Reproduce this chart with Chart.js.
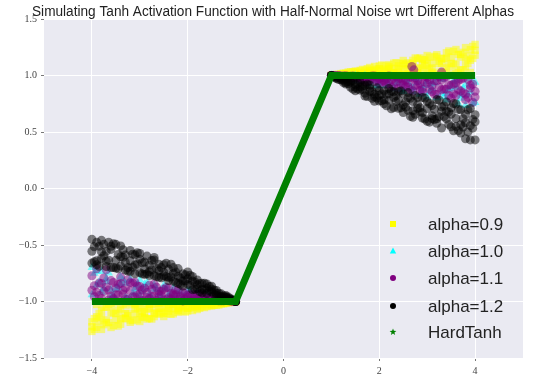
<!DOCTYPE html>
<html>
<head>
<meta charset="utf-8">
<script src="https://cdn.jsdelivr.net/npm/chart.js@4.4.1/dist/chart.umd.min.js"></script>
<style>
    body { margin: 0; background: #ffffff; }
    canvas { display: block; }
</style>
</head>
<body>
<canvas id="myChart" width="542" height="381"></canvas>
<script>
    var titleText = "Simulating Tanh Activation Function with Half-Normal Noise wrt Different Alphas";
    var seriesNames = ["alpha=0.9", "alpha=1.0", "alpha=1.1", "alpha=1.2", "HardTanh"];
    var xTicks = [-4, -2, 0, 2, 4];
    var yTicks = [-1.5, -1.0, -0.5, 0.0, 0.5, 1.0, 1.5];

    // x positions of the noisy samples (two interleaved grids on each side)
    var xLeft = [-4.0, -3.9, -3.8, -3.7, -3.6, -3.5, -3.4, -3.3, -3.2, -3.1, -3.0, -2.9, -2.8, -2.7, -2.6, -2.5, -2.4, -2.3, -2.2, -2.1, -2.0, -1.9, -1.8, -1.7, -1.6, -1.5, -1.4, -1.3, -1.2, -1.1, -1.0];
    var xRight = [1.0, 1.1, 1.2, 1.3, 1.4, 1.5, 1.6, 1.7, 1.8, 1.9, 2.0, 2.1, 2.2, 2.3, 2.4, 2.5, 2.6, 2.7, 2.8, 2.9, 3.0, 3.1, 3.2, 3.3, 3.4, 3.5, 3.6, 3.7, 3.8, 3.9, 4.0];
    var xLeft2 = [-3.95, -3.85, -3.75, -3.65, -3.55, -3.45, -3.35, -3.25, -3.15, -3.05, -2.95, -2.85, -2.75, -2.65, -2.55, -2.45, -2.35, -2.25, -2.15, -2.05, -1.95, -1.85, -1.75, -1.65, -1.55, -1.45, -1.35, -1.25, -1.15, -1.05];
    var xRight2 = [1.05, 1.15, 1.25, 1.35, 1.45, 1.55, 1.65, 1.75, 1.85, 1.95, 2.05, 2.15, 2.25, 2.35, 2.45, 2.55, 2.65, 2.75, 2.85, 2.95, 3.05, 3.15, 3.25, 3.35, 3.45, 3.55, 3.65, 3.75, 3.85, 3.95];

    // alpha = 0.9
    var yellowLeftA = [-1.265, -1.229, -1.143, -1.050, -1.230, -1.163, -1.067, -1.107, -1.164, -1.020, -1.112, -1.044, -1.151, -1.071, -1.112, -1.007, -1.085, -1.042, -1.095, -1.056, -1.014, -1.080, -1.030, -1.046, -1.011, -1.028, -1.033, -1.003, -1.009, -1.007, -1.00];
    var yellowLeftB = [-1.223, -1.027, -1.078, -1.163, -1.036, -1.105, -1.201, -1.150, -1.010, -1.068, -1.177, -1.106, -1.025, -1.134, -1.060, -1.105, -1.026, -1.109, -1.056, -1.010, -1.060, -1.021, -1.071, -1.029, -1.045, -1.002, -1.013, -1.017, -1.017, -1.002, -1.00];
    var yellowLeftC = [-1.18, -1.135, -1.247, -1.188, -1.097, -1.012, -1.145, -1.032, -1.184, -1.107, -1.047, -1.141, -1.059, -1.103, -1.015, -1.133, -1.059, -1.024, -1.078, -1.031, -1.084, -1.046, -1.045, -1.003, -1.022, -1.040, -1.006, -1.021, -1.005, -1.009, -1.00];
    var yellowLeftD = [-1.151, -1.106, -1.205, -1.025, -1.213, -1.080, -1.153, -1.105, -1.030, -1.162, -1.136, -1.069, -1.155, -1.008, -1.094, -1.041, -1.113, -1.023, -1.086, -1.044, -1.009, -1.047, -1.025, -1.054, -1.036, -1.006, -1.031, -1.012, -1.011, -1.001];
    var yellowLeftE = [-1.247, -1.172, -1.051, -1.185, -1.107, -1.217, -1.022, -1.125, -1.170, -1.057, -1.091, -1.155, -1.024, -1.107, -1.058, -1.108, -1.006, -1.064, -1.027, -1.093, -1.057, -1.028, -1.060, -1.006, -1.023, -1.032, -1.007, -1.021, -1.004, -1.003];
    var yellowRightA = [1.00, 1.007, 1.009, 1.003, 1.033, 1.028, 1.011, 1.046, 1.030, 1.080, 1.014, 1.056, 1.095, 1.042, 1.085, 1.007, 1.112, 1.071, 1.151, 1.044, 1.112, 1.020, 1.164, 1.107, 1.067, 1.163, 1.230, 1.050, 1.143, 1.229, 1.275];
    var yellowRightB = [1.00, 1.002, 1.017, 1.017, 1.013, 1.002, 1.045, 1.029, 1.071, 1.021, 1.060, 1.010, 1.056, 1.109, 1.026, 1.105, 1.060, 1.134, 1.025, 1.106, 1.177, 1.068, 1.010, 1.150, 1.201, 1.105, 1.036, 1.163, 1.078, 1.027, 1.223];
    var yellowRightC = [1.00, 1.009, 1.005, 1.021, 1.006, 1.040, 1.022, 1.003, 1.045, 1.046, 1.084, 1.031, 1.078, 1.024, 1.059, 1.133, 1.015, 1.103, 1.059, 1.141, 1.047, 1.107, 1.184, 1.032, 1.145, 1.012, 1.097, 1.188, 1.247, 1.135, 1.18];
    var yellowRightD = [1.003, 1.004, 1.021, 1.007, 1.032, 1.023, 1.006, 1.060, 1.028, 1.057, 1.093, 1.027, 1.064, 1.006, 1.108, 1.058, 1.107, 1.024, 1.155, 1.091, 1.057, 1.170, 1.125, 1.022, 1.217, 1.107, 1.185, 1.051, 1.172, 1.257];
    var yellowRightE = [1.001, 1.011, 1.012, 1.031, 1.006, 1.036, 1.054, 1.025, 1.047, 1.009, 1.044, 1.086, 1.023, 1.113, 1.041, 1.094, 1.008, 1.155, 1.069, 1.136, 1.162, 1.030, 1.105, 1.153, 1.080, 1.213, 1.025, 1.205, 1.106, 1.151];

    // alpha = 1.0
    var cyanLeftA = [-0.70, -0.73, -0.916, -0.825, -0.961, -0.888, -0.784, -0.839, -0.989, -0.927, -0.810, -0.886, -0.973, -0.856, -0.936, -0.888, -0.972, -0.883, -0.940, -0.989, -0.935, -0.978, -0.924, -0.969, -0.952, -0.998, -0.986, -0.982, -0.982, -0.998, -1.00];
    var cyanLeftB = [-0.940, -0.855, -0.734, -0.798, -0.896, -0.988, -0.844, -0.966, -0.802, -0.885, -0.950, -0.848, -0.937, -0.890, -0.984, -0.858, -0.937, -0.974, -0.916, -0.967, -0.910, -0.951, -0.952, -0.997, -0.976, -0.958, -0.994, -0.978, -0.995, -0.990, -1.00];
    var cyanLeftC = [-0.749, -0.829, -0.890, -0.748, -0.949, -0.878, -0.812, -0.978, -0.936, -0.857, -0.912, -0.834, -0.974, -0.893, -0.961, -0.877, -0.926, -0.994, -0.914, -0.963, -0.910, -0.983, -0.955, -0.974, -0.956, -0.996, -0.976, -0.993, -0.987, -0.998];
    var cyanRightA = [1.00, 0.998, 0.982, 0.982, 0.986, 0.998, 0.952, 0.969, 0.924, 0.978, 0.935, 0.989, 0.940, 0.883, 0.972, 0.888, 0.936, 0.856, 0.973, 0.886, 0.810, 0.927, 0.989, 0.839, 0.784, 0.888, 0.961, 0.825, 0.916, 0.971, 0.760];
    var cyanRightB = [1.00, 0.990, 0.995, 0.978, 0.994, 0.958, 0.976, 0.997, 0.952, 0.951, 0.910, 0.967, 0.916, 0.974, 0.937, 0.858, 0.984, 0.890, 0.937, 0.848, 0.950, 0.885, 0.802, 0.966, 0.844, 0.988, 0.896, 0.798, 0.734, 0.855, 0.940];
    var cyanRightC = [0.998, 0.987, 0.993, 0.976, 0.996, 0.956, 0.974, 0.955, 0.983, 0.910, 0.963, 0.914, 0.994, 0.926, 0.877, 0.961, 0.893, 0.974, 0.834, 0.912, 0.857, 0.936, 0.978, 0.812, 0.878, 0.949, 0.748, 0.890, 0.829, 0.749];

    // alpha = 1.1
    var purpleLeftA = [-0.772, -0.917, -0.840, -0.720, -0.951, -0.881, -0.840, -0.978, -0.906, -0.830, -0.934, -0.882, -0.974, -0.846, -0.939, -0.893, -0.967, -0.932, -0.897, -0.995, -0.943, -0.931, -0.977, -0.953, -0.989, -0.957, -0.981, -0.981, -0.992, -0.992, -1.00];
    var purpleLeftB = [-0.900, -0.710, -0.973, -0.872, -0.815, -0.941, -0.783, -0.880, -0.833, -0.960, -0.867, -0.991, -0.855, -0.951, -0.909, -0.986, -0.880, -0.944, -0.977, -0.921, -0.962, -0.991, -0.935, -0.973, -0.966, -0.988, -0.972, -0.994, -0.984, -0.997, -1.00];
    var purpleLeftC = [-0.958, -0.837, -0.909, -0.987, -0.831, -0.942, -0.900, -0.979, -0.837, -0.941, -0.898, -0.965, -0.892, -0.992, -0.941, -0.876, -0.981, -0.940, -0.967, -0.925, -0.991, -0.951, -0.982, -0.947, -0.982, -0.979, -0.993, -0.983, -0.994, -0.997];
    var purpleLeftD = [-0.860, -0.946, -0.791, -0.899, -0.976, -0.849, -0.933, -0.807, -0.959, -0.863, -0.991, -0.921, -0.958, -0.874, -0.912, -0.979, -0.930, -0.899, -0.956, -0.980, -0.941, -0.976, -0.936, -0.991, -0.964, -0.983, -0.972, -0.994, -0.992, -0.998];
    var purpleRightA = [1.00, 0.996, 0.995, 0.980, 0.993, 0.974, 0.980, 0.946, 0.990, 0.946, 0.970, 0.949, 0.995, 0.906, 0.970, 0.917, 0.939, 0.863, 0.954, 0.879, 0.983, 0.911, 0.832, 0.961, 0.878, 0.915, 0.823, 0.966, 0.833, 0.914, 0.860];
    var purpleRightB = [1.00, 0.998, 0.988, 0.997, 0.969, 0.987, 0.959, 0.985, 0.959, 0.996, 0.928, 0.958, 0.929, 0.978, 0.887, 0.955, 0.898, 0.978, 0.916, 0.855, 0.932, 0.857, 0.953, 0.873, 0.990, 0.798, 0.934, 0.862, 0.786, 0.889, 0.809];
    var purpleRightC = [0.999, 0.999, 0.987, 0.994, 0.983, 0.993, 0.962, 0.984, 0.996, 0.960, 0.982, 0.922, 0.963, 0.989, 0.926, 0.960, 0.874, 0.978, 0.929, 0.992, 0.878, 0.954, 0.895, 0.980, 0.823, 0.924, 0.955, 0.848, 0.964, 0.762];
    var purpleRightD = [0.997, 0.995, 0.996, 0.975, 0.996, 0.974, 0.984, 0.942, 0.971, 0.988, 0.942, 0.971, 0.899, 0.943, 0.975, 0.901, 0.986, 0.911, 0.867, 0.942, 0.957, 0.835, 0.990, 0.880, 0.917, 0.837, 0.876, 0.977, 0.806, 0.925];
    var purpleOddX = [2.68, 2.72, 3.30];
    var purpleOddY = [1.08, 1.05, 1.03];

    // alpha = 1.2
    var blackLeftA = [-0.450, -0.639, -0.561, -0.690, -0.539, -0.634, -0.508, -0.722, -0.640, -0.587, -0.745, -0.651, -0.737, -0.633, -0.785, -0.740, -0.713, -0.820, -0.709, -0.818, -0.798, -0.895, -0.810, -0.893, -0.882, -0.865, -0.946, -0.932, -0.964, -0.975, -1.00];
    var blackLeftB = [-0.660, -0.476, -0.619, -0.557, -0.700, -0.494, -0.686, -0.588, -0.735, -0.677, -0.575, -0.760, -0.677, -0.772, -0.671, -0.773, -0.815, -0.700, -0.776, -0.863, -0.739, -0.818, -0.886, -0.839, -0.929, -0.914, -0.902, -0.954, -0.948, -0.986, -1.00];
    var blackLeftC = [-0.555, -0.675, -0.459, -0.643, -0.511, -0.704, -0.604, -0.655, -0.548, -0.754, -0.625, -0.712, -0.770, -0.610, -0.727, -0.674, -0.787, -0.750, -0.840, -0.755, -0.849, -0.779, -0.851, -0.924, -0.845, -0.892, -0.928, -0.962, -0.958, -0.981, -1.00];
    var blackLeftD = [-0.515, -0.688, -0.493, -0.634, -0.488, -0.710, -0.609, -0.700, -0.581, -0.669, -0.756, -0.598, -0.719, -0.780, -0.700, -0.780, -0.670, -0.830, -0.792, -0.764, -0.856, -0.827, -0.912, -0.838, -0.906, -0.898, -0.952, -0.950, -0.961, -0.990];
    var blackLeftE = [-0.649, -0.511, -0.595, -0.476, -0.700, -0.584, -0.542, -0.730, -0.697, -0.568, -0.657, -0.755, -0.637, -0.709, -0.790, -0.661, -0.783, -0.738, -0.848, -0.816, -0.767, -0.893, -0.840, -0.895, -0.867, -0.935, -0.927, -0.970, -0.974, -0.988];
    var blackRightA = [1.00, 0.986, 0.960, 0.970, 0.896, 0.920, 0.870, 0.914, 0.859, 0.772, 0.868, 0.785, 0.885, 0.716, 0.784, 0.837, 0.691, 0.769, 0.709, 0.806, 0.595, 0.733, 0.617, 0.683, 0.766, 0.546, 0.619, 0.696, 0.440, 0.556, 0.430];
    var blackRightB = [1.00, 0.978, 0.978, 0.925, 0.940, 0.895, 0.944, 0.818, 0.887, 0.834, 0.774, 0.866, 0.780, 0.806, 0.857, 0.672, 0.804, 0.688, 0.804, 0.623, 0.708, 0.644, 0.787, 0.535, 0.684, 0.714, 0.548, 0.491, 0.657, 0.708, 0.591];
    var blackRightC = [1.00, 0.974, 0.968, 0.937, 0.952, 0.865, 0.899, 0.844, 0.916, 0.811, 0.825, 0.749, 0.837, 0.856, 0.710, 0.738, 0.849, 0.630, 0.745, 0.671, 0.770, 0.618, 0.577, 0.723, 0.616, 0.658, 0.748, 0.564, 0.582, 0.430, 0.653];
    var blackRightD = [0.990, 0.982, 0.938, 0.944, 0.955, 0.880, 0.909, 0.814, 0.858, 0.891, 0.775, 0.833, 0.705, 0.769, 0.863, 0.720, 0.798, 0.657, 0.715, 0.800, 0.587, 0.701, 0.636, 0.731, 0.567, 0.752, 0.512, 0.617, 0.697, 0.534];
    var blackRightE = [0.994, 0.964, 0.958, 0.927, 0.879, 0.934, 0.878, 0.922, 0.798, 0.801, 0.836, 0.732, 0.861, 0.821, 0.713, 0.765, 0.638, 0.822, 0.678, 0.615, 0.752, 0.611, 0.782, 0.636, 0.678, 0.511, 0.700, 0.544, 0.501, 0.611];

    // HardTanh
    var hardX = [-4, -1, 1, 4];
    var hardY = [-1, -1, 1, 1];

    function pts(xs, ys) {
        var out = [];
        for (var i = 0; i < xs.length; i++) {
            out.push({ x: xs[i], y: ys[i] });
        }
        return out;
    }

    var yellowPts = [].concat(pts(xLeft, yellowLeftA), pts(xLeft, yellowLeftB), pts(xLeft, yellowLeftC), pts(xLeft2, yellowLeftD), pts(xLeft2, yellowLeftE),
        pts(xRight, yellowRightA), pts(xRight, yellowRightB), pts(xRight, yellowRightC), pts(xRight2, yellowRightD), pts(xRight2, yellowRightE));
    var cyanPts = [].concat(pts(xLeft, cyanLeftA), pts(xLeft, cyanLeftB), pts(xLeft2, cyanLeftC),
        pts(xRight, cyanRightA), pts(xRight, cyanRightB), pts(xRight2, cyanRightC));
    var purplePts = [].concat(pts(xLeft, purpleLeftA), pts(xLeft, purpleLeftB), pts(xLeft2, purpleLeftC), pts(xLeft2, purpleLeftD),
        pts(xRight, purpleRightA), pts(xRight, purpleRightB), pts(xRight2, purpleRightC), pts(xRight2, purpleRightD), pts(purpleOddX, purpleOddY));
    var blackPts = [].concat(pts(xLeft, blackLeftA), pts(xLeft, blackLeftB), pts(xLeft, blackLeftC), pts(xLeft2, blackLeftD), pts(xLeft2, blackLeftE),
        pts(xRight, blackRightA), pts(xRight, blackRightB), pts(xRight, blackRightC), pts(xRight2, blackRightD), pts(xRight2, blackRightE));

    var legendItems = [
        { color: "#ffff00", style: "rect" },
        { color: "#00ffff", style: "triangle" },
        { color: "#800080", style: "circle" },
        { color: "#000000", style: "circle" },
        { color: "#008000", style: "star" }
    ];

    function minus(v) {
        return String(v).replace("-", "\u2212");
    }

    var seabornLook = {
        id: "seabornLook",
        beforeDraw: function (chart) {
            var a = chart.chartArea;
            var ctx = chart.ctx;
            ctx.save();
            ctx.fillStyle = "#eaeaf2";
            ctx.fillRect(a.left, a.top, a.right - a.left, a.bottom - a.top);
            ctx.restore();
        },
        afterDraw: function (chart) {
            var ctx = chart.ctx;
            ctx.save();
            // title
            ctx.fillStyle = "#222222";
            ctx.font = '14px "Liberation Sans"';
            ctx.textAlign = "center";
            ctx.textBaseline = "alphabetic";
            ctx.fillText(titleText, 273, 16, 482);

            // legend, inside the plot at lower right
            var rowY = [224, 251, 278, 306, 332];
            ctx.font = '17px "Liberation Sans"';
            ctx.textAlign = "left";
            ctx.textBaseline = "middle";
            for (var i = 0; i < seriesNames.length; i++) {
                var it = legendItems[i];
                var mx = 393, my = rowY[i];
                ctx.fillStyle = it.color;
                ctx.beginPath();
                if (it.style === "rect") {
                    ctx.rect(mx - 3, my - 3, 6, 6);
                } else if (it.style === "triangle") {
                    ctx.moveTo(mx, my - 3.5);
                    ctx.lineTo(mx + 3.2, my + 2.5);
                    ctx.lineTo(mx - 3.2, my + 2.5);
                    ctx.closePath();
                } else if (it.style === "circle") {
                    ctx.arc(mx, my, 3, 0, Math.PI * 2);
                } else {
                    for (var k = 0; k < 10; k++) {
                        var r = k % 2 === 0 ? 3.6 : 1.5;
                        var ang = -Math.PI / 2 + k * Math.PI / 5;
                        if (k === 0) ctx.moveTo(mx + r * Math.cos(ang), my + r * Math.sin(ang));
                        else ctx.lineTo(mx + r * Math.cos(ang), my + r * Math.sin(ang));
                    }
                    ctx.closePath();
                }
                ctx.fill();
                ctx.fillStyle = "#222222";
                ctx.fillText(seriesNames[i], 428, my + 1);
            }
            ctx.restore();
        }
    };

    new Chart("myChart", {
        type: "scatter",
        data: {
            datasets: [{
                label: seriesNames[0],
                data: yellowPts,
                pointStyle: "rect",
                pointRadius: 5.2,
                backgroundColor: "rgba(255,255,0,0.5)",
                borderWidth: 0,
                order: 4
            }, {
                label: seriesNames[1],
                data: cyanPts,
                pointStyle: "triangle",
                pointRadius: 5,
                backgroundColor: "rgba(0,255,255,0.5)",
                borderWidth: 0,
                order: 3
            }, {
                label: seriesNames[2],
                data: purplePts,
                pointStyle: "circle",
                pointRadius: 4.5,
                backgroundColor: "rgba(128,0,128,0.5)",
                borderWidth: 0,
                order: 2
            }, {
                label: seriesNames[3],
                data: blackPts,
                pointStyle: "circle",
                pointRadius: 4.5,
                backgroundColor: "rgba(0,0,0,0.5)",
                borderWidth: 0,
                order: 1
            }, {
                type: "line",
                label: seriesNames[4],
                data: pts(hardX, hardY),
                showLine: true,
                borderColor: "#008000",
                borderWidth: 7,
                pointRadius: 0,
                fill: false,
                order: 0
            }]
        },
        options: {
            responsive: false,
            animation: false,
            devicePixelRatio: 1,
            layout: { padding: { top: 19, right: 19, left: 0, bottom: 0 } },
            plugins: {
                legend: { display: false },
                title: { display: false },
                tooltip: { enabled: false }
            },
            scales: {
                x: {
                    type: "linear",
                    min: -5,
                    max: 5,
                    border: { display: false },
                    grid: { color: "#ffffff", lineWidth: 1, tickLength: 3, tickColor: "#777777" },
                    afterBuildTicks: function (scale) {
                        scale.ticks = xTicks.map(function (v) { return { value: v }; });
                    },
                    afterFit: function (scale) { scale.height = 23; },
                    ticks: {
                        padding: 4,
                        color: "#444444",
                        font: { family: '"Liberation Serif"', size: 10 },
                        callback: function (v) { return minus(v); }
                    }
                },
                y: {
                    min: -1.5,
                    max: 1.5,
                    border: { display: false },
                    grid: { color: "#ffffff", lineWidth: 1, tickLength: 3, tickColor: "#777777" },
                    afterBuildTicks: function (scale) {
                        scale.ticks = yTicks.map(function (v) { return { value: v }; });
                    },
                    afterFit: function (scale) { scale.width = 44; },
                    ticks: {
                        padding: 4,
                        color: "#444444",
                        font: { family: '"Liberation Serif"', size: 10 },
                        callback: function (v) { return minus(v.toFixed(1)); }
                    }
                }
            }
        },
        plugins: [seabornLook]
    });
</script>
</body>
</html>
